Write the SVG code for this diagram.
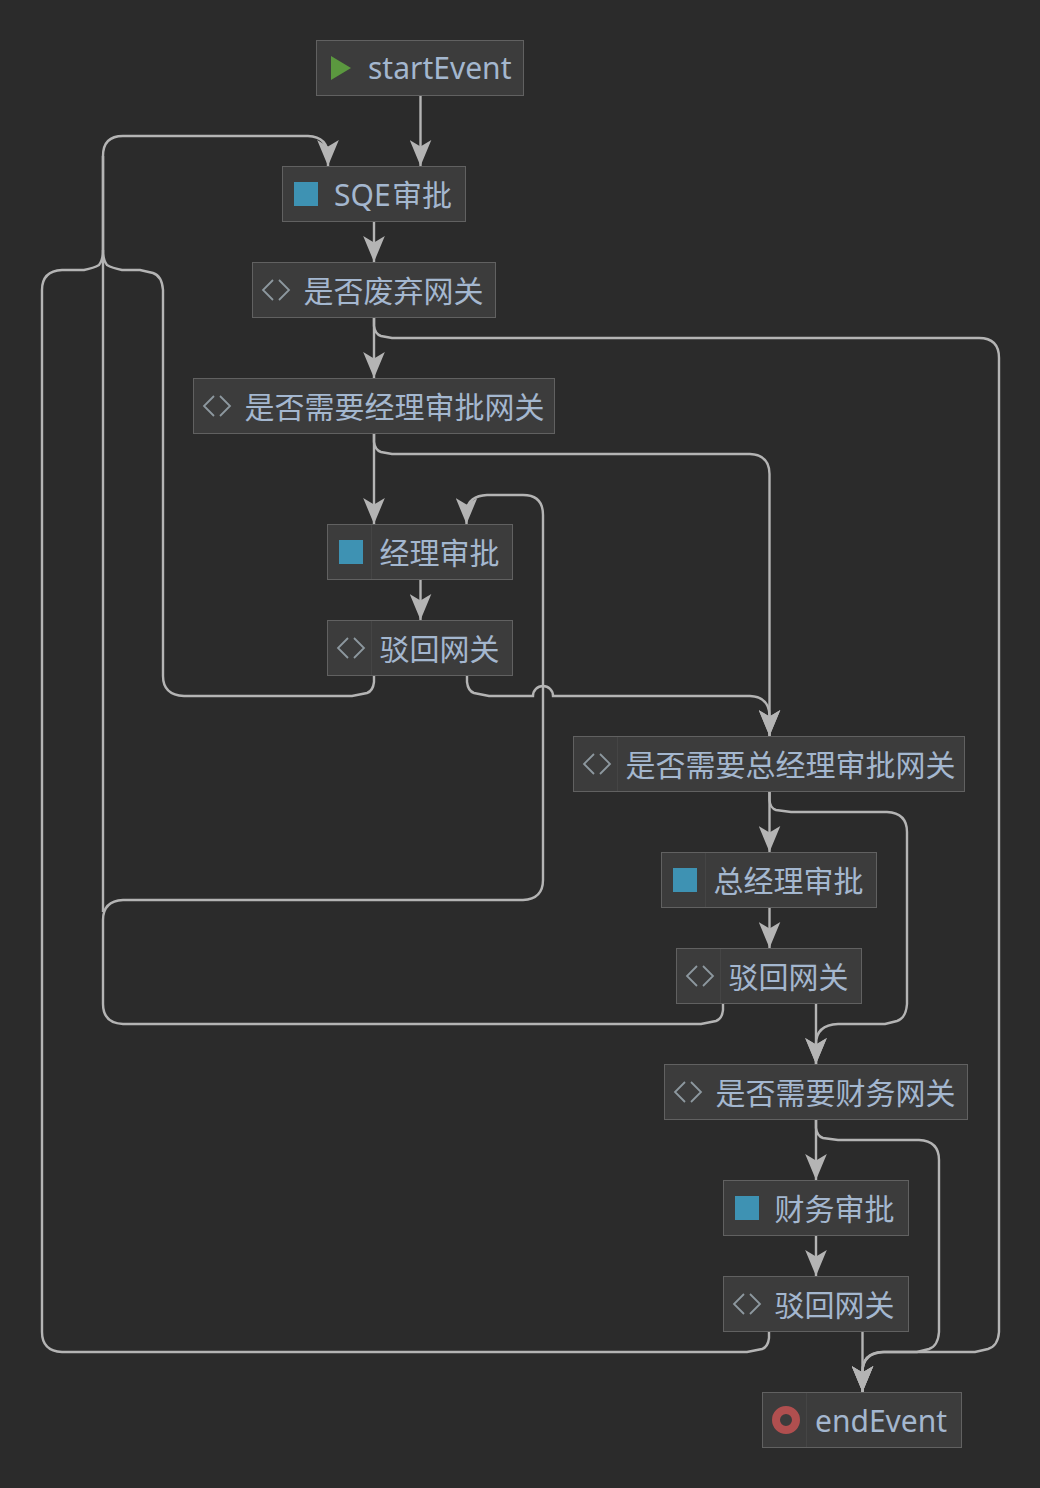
<svg xmlns="http://www.w3.org/2000/svg" width="1040" height="1488" viewBox="0 0 1040 1488">
<style>
.bg{fill:#2b2b2b}
.box{fill:#3c3c3c;stroke:#616161;stroke-width:1}
.sep{stroke:#454545;stroke-width:1}
.t{font-family:"Noto Sans","Noto Sans CJK SC",sans-serif;font-size:30px;fill:#a4b7cf}
.task{fill:#3e92b3}
.gw{fill:none;stroke:#8d989f;stroke-width:1.800}
.c{fill:none;stroke:#b4b4b4;stroke-width:2.400}
</style>
<defs>
<marker id="a" markerUnits="userSpaceOnUse" markerWidth="22" markerHeight="26" refX="10" refY="24" orient="0" viewBox="0 0 20 24"><path d="M0 0L10 6L20 0L10 24Z" fill="#b4b4b4"/></marker>
<g id="gwi"><path class="gw" d="M-3 -10L-13 0L-3 10M3 -10L13 0L3 10"/></g>
</defs>
<rect class="bg" width="1040" height="1488"/>
<g id="connectors">
<path class="c" marker-end="url(#a)" d="M420.500 96V166"/>
<path class="c" marker-end="url(#a)" d="M374 222V262"/>
<path class="c" marker-end="url(#a)" d="M374 318V378"/>
<path class="c" marker-end="url(#a)" d="M374 434V524"/>
<path class="c" marker-end="url(#a)" d="M420.500 580V620"/>
<path class="c" marker-end="url(#a)" d="M769.500 792V852"/>
<path class="c" marker-end="url(#a)" d="M769.500 908V948"/>
<path class="c" marker-end="url(#a)" d="M816 1004V1064"/>
<path class="c" marker-end="url(#a)" d="M816 1120V1180"/>
<path class="c" marker-end="url(#a)" d="M816 1236V1276"/>
<path class="c" marker-end="url(#a)" d="M862.500 1332V1392"/>
<path class="c" marker-end="url(#a)" d="M374 318V326Q375 334 381 336L392 338H979Q999 338 999 358V1332Q998 1346 988 1349L975 1352H882Q862.500 1353 862.500 1372V1392"/>
<path class="c" marker-end="url(#a)" d="M374 434V442Q375 450 381 452L392 454H750Q769.500 455 769.500 474V736"/>
<path class="c" marker-end="url(#a)" d="M374 676V682Q373 691 367 693L352 696H184Q163 695 163 676V290Q162 276 153 273L140 270H122Q112 268 107 265Q103 260 103 250V156Q103 136 123 136H308Q328 137 328 156V166"/>
<path class="c" marker-end="url(#a)" d="M467 676V682Q468 691 474 693L489 696H533A10 10 0 0 1 553 696H750Q769.500 697 769.500 716V736"/>
<path class="c" marker-end="url(#a)" d="M723 1004V1010Q722 1019 716 1021L701 1024H123Q103 1023 103 1004V920Q103 901 123 900H523Q543 899 543 880V515Q543 495 523 495H487Q466 496 466.500 515V524"/>
<path class="c" d="M103 156V912"/>
<path class="c" marker-end="url(#a)" d="M769.500 792V800Q770 808 776 810L791 812H887Q907 813 907 832V1004Q906 1018 897 1021L885 1024H838Q816 1025 816 1044V1064"/>
<path class="c" marker-end="url(#a)" d="M816 1120V1128Q817 1136 823 1138L838 1140H919Q939 1141 939 1160V1332Q938 1346 929 1349L917 1352H884Q862.500 1353 862.500 1372V1392"/>
<path class="c" d="M769 1332V1338Q768 1347 762 1349L747 1352H62Q42 1351 42 1332V290Q42 271 62 270H84Q94 268 99 265Q103 260 103 250"/>
</g>
<g id="start"><rect class="box" x="316.500" y="40.500" width="207" height="55"/><path d="M331 56L351 68L331 80Z" fill="#5b983f"/><text class="t" x="368" y="79">startEvent</text></g>
<g id="sqe"><rect class="box" x="282.500" y="166.500" width="183" height="55"/><rect class="task" x="294" y="182" width="24" height="24"/><text class="t" x="334" y="206">SQE<tspan dx="1.500">审批</tspan></text></g>
<g id="gw1"><rect class="box" x="252.500" y="262.500" width="243" height="55"/><use href="#gwi" x="276" y="290"/><text class="t" x="303.500" y="302">是否废弃网关</text></g>
<g id="gw2"><rect class="box" x="193.500" y="378.500" width="361" height="55"/><use href="#gwi" x="217" y="406"/><text class="t" x="244.500" y="418">是否需要经理审批网关</text></g>
<g id="mgr"><rect class="box" x="327.500" y="524.500" width="185" height="55"/><path class="sep" d="M371.500 525V579"/><rect class="task" x="339" y="540" width="24" height="24"/><text class="t" x="379.500" y="564">经理审批</text></g>
<g id="rej1"><rect class="box" x="327.500" y="620.500" width="185" height="55"/><path class="sep" d="M371.500 621V675"/><use href="#gwi" x="351" y="648"/><text class="t" x="379.500" y="660">驳回网关</text></g>
<g id="gw3"><rect class="box" x="573.500" y="736.500" width="391" height="55"/><path class="sep" d="M617.500 737V791"/><use href="#gwi" x="597" y="764"/><text class="t" x="625.500" y="776">是否需要总经理审批网关</text></g>
<g id="gm"><rect class="box" x="661.500" y="852.500" width="215" height="55"/><path class="sep" d="M705.500 853V907"/><rect class="task" x="673" y="868" width="24" height="24"/><text class="t" x="713.500" y="892">总经理审批</text></g>
<g id="rej2"><rect class="box" x="676.500" y="948.500" width="185" height="55"/><path class="sep" d="M720.500 949V1003"/><use href="#gwi" x="700" y="976"/><text class="t" x="728.500" y="988">驳回网关</text></g>
<g id="gw4"><rect class="box" x="664.500" y="1064.500" width="303" height="55"/><use href="#gwi" x="688" y="1092"/><text class="t" x="715.500" y="1104">是否需要财务网关</text></g>
<g id="fin"><rect class="box" x="723.500" y="1180.500" width="185" height="55"/><rect class="task" x="735" y="1196" width="24" height="24"/><text class="t" x="774.500" y="1220">财务审批</text></g>
<g id="rej3"><rect class="box" x="723.500" y="1276.500" width="185" height="55"/><use href="#gwi" x="747" y="1304"/><text class="t" x="774.500" y="1316">驳回网关</text></g>
<g id="end"><rect class="box" x="762.500" y="1392.500" width="199" height="55"/><path class="sep" d="M806.500 1393V1447"/><circle cx="786" cy="1420" r="10" fill="none" stroke="#b04f4f" stroke-width="8"/><text class="t" x="815" y="1432">endEvent</text></g>
</svg>
